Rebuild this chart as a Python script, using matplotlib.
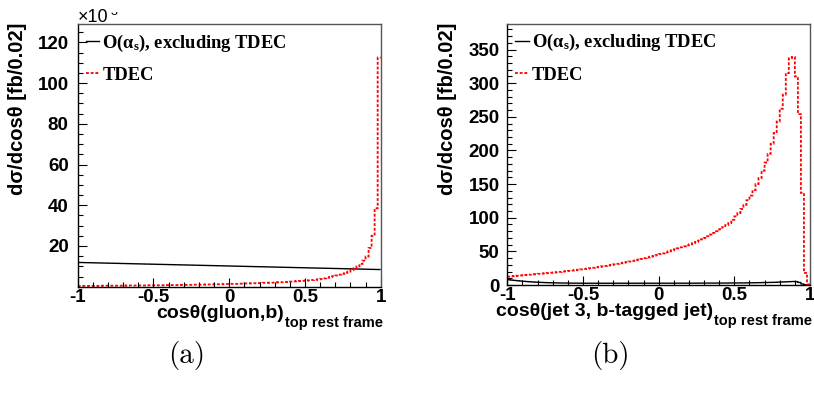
import numpy as np
import matplotlib
matplotlib.use("Agg")
import matplotlib.pyplot as plt
from matplotlib.ticker import MultipleLocator, FixedLocator, FixedFormatter
from matplotlib.font_manager import FontProperties
from matplotlib.transforms import Bbox, TransformedBbox

plt.rcParams['axes.unicode_minus'] = False
plt.rcParams['mathtext.fontset'] = 'custom'
plt.rcParams['mathtext.rm'] = 'Liberation Serif:bold'
plt.rcParams['mathtext.it'] = 'Liberation Serif:italic:bold'
plt.rcParams['mathtext.bf'] = 'Liberation Serif:bold'

# 100 bins of width 0.02 on [-1, 1]
bin_edges = np.linspace(-1.0, 1.0, 101)

# ---- panel (a): cos(gluon, b) in the top rest frame, units of 1e-3 fb/0.02
a_tdec = [
    0.4, 0.4, 0.4, 0.4, 0.4, 0.4, 0.4, 0.4, 0.5, 0.5,
    0.5, 0.5, 0.5, 0.5, 0.5, 0.5, 0.6, 0.6, 0.6, 0.6,
    0.6, 0.6, 0.6, 0.7, 0.7, 0.7, 0.7, 0.7, 0.7, 0.8,
    0.8, 0.8, 0.8, 0.8, 0.9, 0.9, 0.9, 0.9, 1.0, 1.0,
    1.0, 1.0, 1.1, 1.1, 1.1, 1.2, 1.2, 1.2, 1.3, 1.3,
    1.4, 1.4, 1.4, 1.5, 1.5, 1.6, 1.6, 1.7, 1.7, 1.8,
    1.8, 1.9, 1.9, 2.0, 2.0, 2.1, 2.2, 2.2, 2.3, 2.4,
    2.5, 2.6, 2.7, 2.8, 2.9, 3.0, 3.1, 3.3, 3.4, 3.6,
    3.8, 4.1, 4.4, 4.8, 5.2, 5.5, 5.9, 6.3, 6.8, 7.4,
    8.2, 9.0, 10.0, 11.2, 12.8, 14.8, 19.0, 25.0, 38.5, 112.5,
]
a_nlo = [
    11.90, 11.86, 11.83, 11.79, 11.76, 11.72, 11.69, 11.65, 11.62, 11.58,
    11.55, 11.51, 11.48, 11.44, 11.41, 11.37, 11.34, 11.30, 11.27, 11.23,
    11.20, 11.16, 11.13, 11.09, 11.06, 11.02, 10.99, 10.95, 10.92, 10.88,
    10.85, 10.81, 10.78, 10.74, 10.71, 10.67, 10.64, 10.60, 10.57, 10.53,
    10.50, 10.46, 10.43, 10.39, 10.36, 10.32, 10.29, 10.25, 10.22, 10.18,
    10.15, 10.11, 10.08, 10.04, 10.01, 9.97, 9.94, 9.90, 9.87, 9.83,
    9.80, 9.76, 9.73, 9.69, 9.66, 9.62, 9.59, 9.55, 9.52, 9.48,
    9.45, 9.41, 9.38, 9.34, 9.31, 9.27, 9.24, 9.20, 9.17, 9.13,
    9.10, 9.06, 9.03, 8.99, 8.96, 8.92, 8.89, 8.85, 8.82, 8.78,
    8.75, 8.71, 8.68, 8.64, 8.61, 8.57, 8.54, 8.50, 8.47, 8.43,
]

# ---- panel (b): cos(jet 3, b-tagged jet) in the top rest frame, fb/0.02
b_tdec = [
    12.5, 13.0, 13.4, 13.8, 14.2, 14.6, 15.0, 15.4, 15.8, 16.2,
    16.6, 17.0, 17.4, 17.8, 18.2, 18.6, 19.0, 19.5, 20.0, 20.5,
    21.0, 21.5, 22.0, 22.6, 23.2, 23.8, 24.4, 25.0, 25.6, 26.3,
    27.0, 27.7, 28.4, 29.1, 29.9, 30.7, 31.5, 32.3, 33.1, 34.0,
    34.9, 35.8, 36.8, 37.8, 38.8, 39.9, 41.0, 42.1, 43.3, 44.5,
    46.0, 47.0, 48.5, 50.0, 51.5, 53.0, 54.5, 56.0, 57.5, 59.0,
    60.5, 62.0, 64.0, 66.0, 68.0, 70.0, 72.5, 75.0, 77.5, 80.0,
    83.0, 86.0, 89.0, 92.0, 97.0, 102.0, 107.0, 113.0, 119.0, 126.0,
    133.0, 141.0, 150.0, 159.0, 170.0, 182.0, 195.0, 210.0, 226.0, 243.0,
    262.0, 283.0, 315.0, 337.0, 339.0, 310.0, 254.0, 137.0, 18.0, 1.0,
]
b_nlo = [
    7.8, 7.3, 6.8, 6.3, 5.9, 5.5, 5.1, 4.8, 4.5, 4.2,
    4.0, 3.8, 3.6, 3.4, 3.3, 3.2, 3.1, 3.0, 2.9, 2.9,
    2.8, 2.8, 2.7, 2.7, 2.7, 2.6, 2.6, 2.6, 2.6, 2.6,
    2.6, 2.6, 2.6, 2.6, 2.6, 2.6, 2.6, 2.6, 2.6, 2.6,
    2.6, 2.6, 2.6, 2.6, 2.6, 2.6, 2.6, 2.6, 2.6, 2.6,
    2.6, 2.6, 2.6, 2.6, 2.6, 2.6, 2.7, 2.7, 2.7, 2.7,
    2.7, 2.7, 2.7, 2.8, 2.8, 2.8, 2.8, 2.8, 2.9, 2.9,
    2.9, 2.9, 2.9, 3.0, 3.0, 3.0, 3.0, 3.1, 3.1, 3.2,
    3.2, 3.3, 3.4, 3.5, 3.6, 3.7, 3.8, 3.9, 4.0, 4.2,
    4.4, 4.6, 4.8, 5.0, 5.2, 5.0, 3.8, 1.5, 0.3, 0.0,
]

x_tick_values = [-1.0, -0.5, 0.0, 0.5, 1.0]
x_tick_labels = ["-1", "-0.5", "0", "0.5", "1"]
a_y_ticks = [20, 40, 60, 80, 100, 120]
b_y_ticks = [0, 50, 100, 150, 200, 250, 300, 350]

label_nlo = r"O($\mathrm{\alpha}_{\rm s}$), excluding TDEC"
label_tdec = "TDEC"
ylabel_text = "dσ/dcosθ [fb/0.02]"
a_xlabel = "cosθ(gluon,b)"
b_xlabel = "cosθ(jet 3, b-tagged jet)"
xlabel_sub = "top rest frame"

W, H = 814, 398
fig = plt.figure(figsize=(W / 100, H / 100), dpi=100)
axA = fig.add_axes([77.7 / W, 1 - 286.7 / H, 303.0 / W, 262.7 / H])
axB = fig.add_axes([507.3 / W, 1 - 285.0 / H, 302.7 / W, 261.0 / H])

sans_bold = dict(family="Liberation Sans", weight="bold")
red_dots = (0, (1.6, 1.0))


def draw_panel(ax, nlo, tdec, ymin, ymax, yticks, yminor, ypad, xlabel):
    ax.stairs(nlo, bin_edges, baseline=None, color="black", lw=1.0,
              label=label_nlo, snap=False)
    ax.stairs(tdec, bin_edges, baseline=None, color="red", lw=1.3,
              linestyle=red_dots, label=label_tdec, snap=False)
    ax.set_xlim(-1, 1)
    ax.set_ylim(ymin, ymax)

    ax.xaxis.set_major_locator(FixedLocator(x_tick_values))
    ax.xaxis.set_major_formatter(FixedFormatter(x_tick_labels))
    ax.xaxis.set_minor_locator(MultipleLocator(0.1))
    ax.yaxis.set_major_locator(FixedLocator(yticks))
    ax.yaxis.set_major_formatter(FixedFormatter([str(v) for v in yticks]))
    ax.yaxis.set_minor_locator(MultipleLocator(yminor))

    ax.tick_params(which="both", direction="in", top=False, right=False,
                   width=0.8, color="black")
    ax.tick_params(which="major", length=6.5)
    ax.tick_params(which="minor", length=3.5)
    ax.tick_params(axis="x", pad=1.5)
    ax.tick_params(axis="y", pad=ypad)
    for lab in ax.get_xticklabels() + ax.get_yticklabels():
        lab.set_fontproperties(FontProperties(size=13.5, **sans_bold))

    for side in ("left", "bottom"):
        ax.spines[side].set_color("black")
        ax.spines[side].set_linewidth(1.0)
    for side in ("top", "right"):
        ax.spines[side].set_color("#555555")
        ax.spines[side].set_linewidth(1.0)

    ax.set_ylabel(ylabel_text, loc="top", fontsize=14.5, **sans_bold)
    ax.yaxis.set_label_coords(-0.166, 1.005)

    sub = ax.text(1.008, -0.152, xlabel_sub, transform=ax.transAxes,
                  ha="right", va="baseline", fontsize=10.5, **sans_bold)
    ax.annotate(xlabel, xy=(0, 0), xycoords=sub, xytext=(-1, 8.5),
                textcoords="offset points", ha="right", va="baseline",
                fontsize=14, **sans_bold)

    ax.legend(loc="upper left", bbox_to_anchor=(0.026, 0.968), frameon=False,
              prop=FontProperties(family="Liberation Serif", weight="bold",
                                  size=13.3),
              handlelength=0.75, handletextpad=0.15, labelspacing=0.72,
              borderpad=0, borderaxespad=0)


draw_panel(axA, a_nlo, a_tdec, 0.0, 129.0, a_y_ticks, 5, 6.5, a_xlabel)
draw_panel(axB, b_nlo, b_tdec, 0.0, 388.0, b_y_ticks, 10, 5.5, b_xlabel)

# common exponent of panel (a); its upper part is cut off by the pad edge
fig.text(78 / W, 1 - 22.5 / H, "×10", fontsize=13, family="Liberation Sans",
         ha="left", va="baseline")
expo = fig.text(107 / W, 1 - 15 / H, "-3", fontsize=9,
                family="Liberation Sans", ha="left", va="baseline")
expo.set_clip_box(TransformedBbox(Bbox([[0, 0], [1, 1 - 11.5 / H]]),
                                  fig.transFigure))
expo.set_clip_on(True)

# sub-figure captions
fig.text(187 / W, 1 - 356 / H, "(a)", family="cmr10", fontsize=21,
         ha="center", va="center")
fig.text(610 / W, 1 - 356 / H, "(b)", family="cmr10", fontsize=21,
         ha="center", va="center")

fig.savefig("out.png", dpi=100)
